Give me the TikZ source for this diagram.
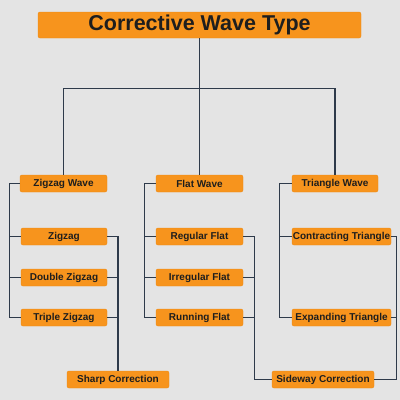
\documentclass[tikz,border=0pt]{standalone}
\usepackage{fontspec}
\setmainfont{Liberation Sans}
\begin{document}
\begin{tikzpicture}[x=1pt,y=-1pt,
  box/.style={fill=boxor, draw=boxedge, line width=0.4pt, rounded corners=2pt, inner sep=0pt,
    minimum height=17pt, text=txt, font=\bfseries\fontsize{10}{12}\selectfont},
  conn/.style={draw=lnc, line width=1.2pt}]
\definecolor{bg}{HTML}{E4E4E4}
\definecolor{boxor}{HTML}{F7941D}
\definecolor{boxedge}{HTML}{EE8A12}
\definecolor{txt}{HTML}{1E1E1E}
\definecolor{lnc}{HTML}{2E3A4A}
\fill[bg] (0,0) rectangle (400,400);
\useasboundingbox (0,0) rectangle (400,400);
\node[box, minimum width=323pt, minimum height=26pt, font=\bfseries\fontsize{21.5}{24}\selectfont] (title) at (199.5,25) {Corrective Wave Type};
\node[box, minimum width=87pt] (zw) at (63.5,183.5) {Zigzag Wave};
\node[box, minimum width=87pt] (fw) at (199.5,183.5) {Flat Wave};
\node[box, minimum width=86pt] (tw) at (335,183.5) {Triangle Wave};
\node[box, minimum width=86pt] (zz) at (64,236.5) {Zigzag};
\node[box, minimum width=86pt] (dz) at (64,277.5) {Double Zigzag};
\node[box, minimum width=86pt] (tz) at (64,317.5) {Triple Zigzag};
\node[box, minimum width=87pt] (rf) at (199.5,236.5) {Regular Flat};
\node[box, minimum width=87pt] (if) at (199.5,277.5) {Irregular Flat};
\node[box, minimum width=87pt] (nf) at (199.5,317.5) {Running Flat};
\node[box, minimum width=99pt] (ct) at (341.5,236.5) {Contracting Triangle};
\node[box, minimum width=99pt] (et) at (341.5,317.5) {Expanding Triangle};
\node[box, minimum width=102pt] (sc) at (118,379.5) {Sharp Correction};
\node[box, minimum width=102pt] (sw) at (323,379.5) {Sideway Correction};
% top tree
\draw[conn] (title.south) -- (fw.north);
\draw[conn] (zw.north) -- ++(0,-86.5) -| (tw.north);
% zigzag column
\draw[conn] (zw.west) -- ++(-10.5,0) |- (tz.west);
\draw[conn] (zz.west) -- ++(-10.5,0);
\draw[conn] (dz.west) -- ++(-10.5,0);
\draw[conn] (zz.east) -| (sc.north);
\draw[conn] (dz.east) -- (dz.east -| sc.north);
\draw[conn] (tz.east) -- (tz.east -| sc.north);
% flat column
\draw[conn] (fw.west) -- ++(-11,0) |- (nf.west);
\draw[conn] (rf.west) -- ++(-11,0);
\draw[conn] (if.west) -- ++(-11,0);
\draw[conn] (rf.east) -- ++(11,0) |- (sw.west);
\draw[conn] (if.east) -- ++(11,0);
\draw[conn] (nf.east) -- ++(11,0);
% triangle column
\draw[conn] (tw.west) -- ++(-12,0) |- (et.west);
\draw[conn] (ct.west) -- ++(-12,0);
\draw[conn] (ct.east) -- ++(5.5,0) |- (sw.east);
\draw[conn] (et.east) -- ++(5.5,0);
\end{tikzpicture}
\end{document}
